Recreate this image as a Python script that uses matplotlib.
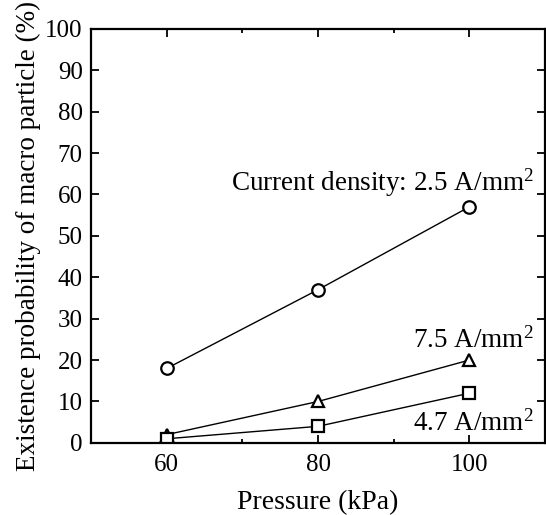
import matplotlib
matplotlib.use('Agg')
import matplotlib.pyplot as plt
from matplotlib.ticker import MultipleLocator

plt.rcParams['font.family'] = 'Liberation Serif'
plt.rcParams['mathtext.fontset'] = 'custom'
plt.rcParams['mathtext.rm'] = 'Liberation Serif'
plt.rcParams['mathtext.it'] = 'Liberation Serif'

pressure = [60, 80, 100]
prob_25 = [18, 37, 57]
prob_75 = [2, 10, 20]
prob_47 = [1, 4, 12]

fig = plt.figure(figsize=(5.46, 5.15), dpi=100)
ax = fig.add_axes([0.167, 0.14, 0.831, 0.804])

style = dict(color='black', lw=1, mfc='white', mec='black', mew=1.6, ms=9)
ax.plot(pressure, prob_25, marker='o', **style)
ax.plot(pressure, prob_75, marker='^', **style)
ax.plot(pressure, prob_47, marker='s', **style)

ax.text(108.5, 61, 'Current density: 2.5 A/mm$^2$', ha='right', va='baseline', fontsize=19.5)
ax.text(108.5, 23, '7.5 A/mm$^2$', ha='right', va='baseline', fontsize=19.5)
ax.text(108.5, 3, '4.7 A/mm$^2$', ha='right', va='baseline', fontsize=19.5)

ax.set_xlim(50, 110)
ax.set_ylim(0, 100)
ax.set_xticks([60, 80, 100])
ax.xaxis.set_minor_locator(MultipleLocator(10))
ax.yaxis.set_major_locator(MultipleLocator(10))
ax.tick_params(which='both', direction='in', top=True, right=True, labelsize=18)
ax.tick_params(which='major', length=6, width=1.3)
ax.tick_params(which='minor', length=3, width=1.3)
ax.tick_params(axis='x', pad=8)
ax.tick_params(axis='y', pad=6)
for s in ax.spines.values():
    s.set_linewidth(1.6)

ax.set_xlabel('Pressure (kPa)', fontsize=20, labelpad=10)
ax.set_ylabel('Existence probability of macro particle (%)', fontsize=19.5, labelpad=3)

fig.savefig('out.png', dpi=100)
